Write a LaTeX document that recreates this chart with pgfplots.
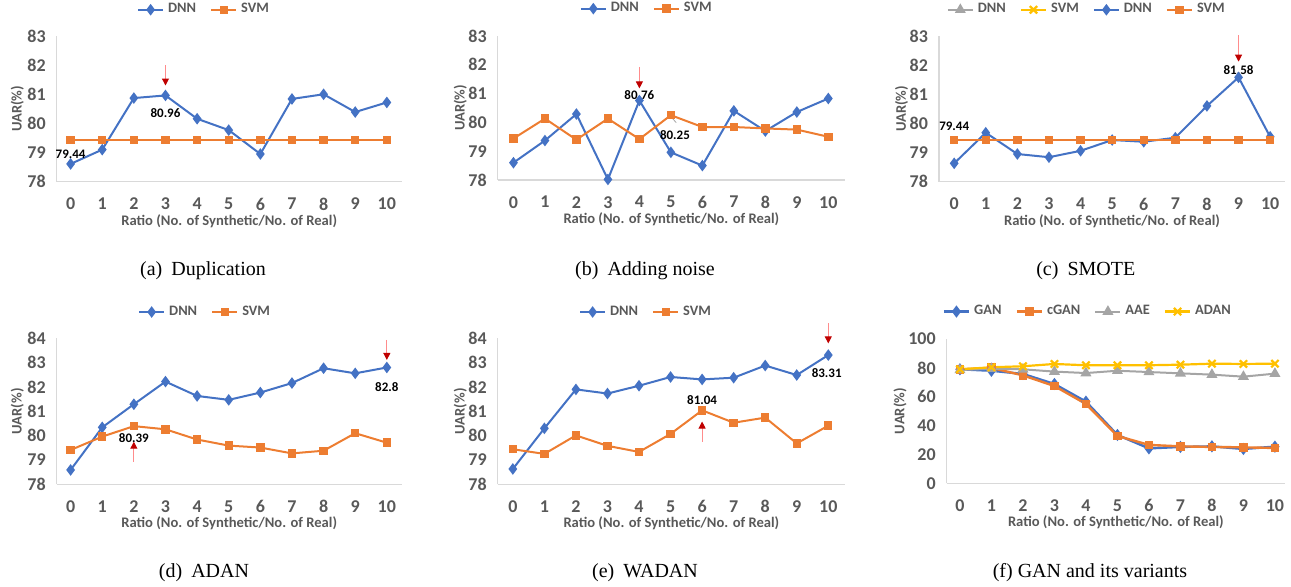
\documentclass[border=0pt]{standalone}
\usepackage{fontspec}
\setmainfont{Liberation Serif}
\newfontfamily\carlito{Carlito}
\usepackage{pgfplots}
\pgfplotsset{compat=1.18}
\usetikzlibrary{arrows.meta}
\definecolor{cblue}{HTML}{4472C4}
\definecolor{corange}{HTML}{ED7D31}
\definecolor{cgray}{HTML}{A5A5A5}
\definecolor{cyellow}{HTML}{FFC000}
\definecolor{txtgray}{HTML}{595959}
\definecolor{axisgray}{HTML}{D9D9D9}
\pgfplotsset{
 mystyle/.style={
  scale only axis, anchor=south west, clip=false,
  axis x line*=bottom, axis y line*=left,
  axis line style={draw=axisgray, line width=0.7pt, -},
  xtick={0,...,10}, major tick length=0pt,
  tick label style={font=\carlito\bfseries\fontsize{9}{10}\selectfont, text=txtgray},
  /pgf/number format/assume math mode=true,
  yticklabel style={xshift=-2pt},
  xticklabel style={yshift=-4.6pt},
  legend style={draw=none, fill=none, font=\carlito\bfseries\fontsize{7.2}{8}\selectfont, text=txtgray, legend columns=-1, anchor=center, /tikz/every even column/.append style={column sep=5pt}},
  legend image code/.code={\draw[mark repeat=2,mark phase=2] plot coordinates {(0cm,0cm) (0.22cm,0cm) (0.44cm,0cm)};},
 },
 dnn/.style={color=cblue, line width=1pt, mark=diamond*, mark size=2.1pt, mark options={solid}},
 svm/.style={color=corange, line width=1pt, mark=square*, mark size=1.6pt, mark options={solid}},
 aae/.style={color=cgray, line width=1pt, mark=triangle*, mark size=2.2pt, mark options={solid}},
 adan/.style={color=cyellow, line width=1.1pt, mark=x, mark size=2.6pt, mark options={solid}},
}
\tikzset{
 arr/.style={draw=red!45, line width=0.5pt, -{Triangle[length=3.5pt,width=3.5pt,color=red!75!black]}},
 lbl/.style={font=\carlito\bfseries\fontsize{6.5}{7}\selectfont, text=black, inner sep=0pt},
 capt/.style={font=\fontsize{10}{12}\selectfont, inner sep=0pt},
 alab/.style={font=\carlito\bfseries\fontsize{7.3}{8}\selectfont, text=txtgray, inner sep=0pt, anchor=center},
}
\newcommand{\axlabels}[1]{%
  \node[alab] at (axis description cs:0.5,-0.27) {Ratio (No. of Synthetic/No. of Real)};
  \node[alab, rotate=90] at (axis description cs:#1,0.5) {UAR(\%)};}
\begin{document}
\begin{tikzpicture}
\path[use as bounding box] (0,0) rectangle (645.5pt,-293.5pt);

% (a) Duplication
\begin{axis}[mystyle, at={(28.35pt,-90.85pt)}, width=172.5pt, height=72.85pt,
  xmin=-0.44, xmax=10.47, ymin=78, ymax=83, ytick={78,...,83},
  legend style={at={(axis description cs:0.43,1.18)}}]
\addplot[dnn] coordinates {(0,78.61) (1,79.10) (2,80.87) (3,80.96) (4,80.16) (5,79.77) (6,78.95) (7,80.84) (8,81.00) (9,80.39) (10,80.72)};
\addplot[svm] coordinates {(0,79.44) (1,79.44) (2,79.44) (3,79.44) (4,79.44) (5,79.44) (6,79.44) (7,79.44) (8,79.44) (9,79.44) (10,79.44)};
\legend{DNN,SVM}
\axlabels{-0.114}
\draw[arr] (axis cs:3,82.0) -- (axis cs:3,81.3);
\node[lbl] at (axis cs:3,80.35) {80.96};
\node[lbl] at (axis cs:0,78.95) {79.44};
\end{axis}

% (b) Adding noise
\begin{axis}[mystyle, at={(248.85pt,-90pt)}, width=173.65pt, height=72pt,
  xmin=-0.5, xmax=10.53, ymin=78, ymax=83, ytick={78,...,83},
  legend style={at={(axis description cs:0.432,1.19)}}]
\addplot[dnn] coordinates {(0,78.60) (1,79.37) (2,80.29) (3,78.02) (4,80.76) (5,78.96) (6,78.50) (7,80.40) (8,79.70) (9,80.36) (10,80.83)};
\addplot[svm] coordinates {(0,79.44) (1,80.13) (2,79.40) (3,80.13) (4,79.42) (5,80.25) (6,79.84) (7,79.84) (8,79.79) (9,79.75) (10,79.50)};
\legend{DNN,SVM}
\axlabels{-0.108}
\draw[arr] (axis cs:4,81.93) -- (axis cs:4,81.18);
\node[lbl] at (axis cs:4,80.95) {80.76};
\draw[gray!70, line width=0.4pt] (axis cs:5.05,80.14) -- (axis cs:5.17,79.99);
\node[lbl] at (axis cs:5.13,79.56) {80.25};
\end{axis}

% (c) SMOTE
\begin{axis}[mystyle, at={(469.5pt,-90.85pt)}, width=173pt, height=72.85pt,
  xmin=-0.48, xmax=10.47, ymin=78, ymax=83, ytick={78,...,83},
  legend style={at={(axis description cs:0.43,1.18)}}]
\addlegendimage{aae}
\addlegendimage{adan}
\addplot[dnn] coordinates {(0,78.63) (1,79.68) (2,78.95) (3,78.84) (4,79.06) (5,79.43) (6,79.37) (7,79.51) (8,80.60) (9,81.58) (10,79.54)};
\addplot[svm] coordinates {(0,79.44) (1,79.44) (2,79.44) (3,79.44) (4,79.44) (5,79.44) (6,79.44) (7,79.44) (8,79.44) (9,79.44) (10,79.44)};
\legend{DNN,SVM,DNN,SVM}
\axlabels{-0.108}
\draw[arr] (axis cs:9,83.03) -- (axis cs:9,82.12);
\node[lbl] at (axis cs:9,81.83) {81.58};
\node[lbl] at (axis cs:0,79.91) {79.44};
\end{axis}

% (d) ADAN
\begin{axis}[mystyle, at={(28.35pt,-242.15pt)}, width=172.5pt, height=73pt,
  xmin=-0.44, xmax=10.47, ymin=78, ymax=84, ytick={78,...,84},
  legend style={at={(axis description cs:0.433,1.18)}}]
\addplot[dnn] coordinates {(0,78.59) (1,80.34) (2,81.29) (3,82.22) (4,81.63) (5,81.47) (6,81.77) (7,82.16) (8,82.77) (9,82.56) (10,82.80)};
\addplot[svm] coordinates {(0,79.41) (1,79.96) (2,80.39) (3,80.26) (4,79.84) (5,79.59) (6,79.51) (7,79.27) (8,79.38) (9,80.10) (10,79.71)};
\legend{DNN,SVM}
\axlabels{-0.114}
\draw[arr] (axis cs:10,83.93) -- (axis cs:10,83.11);
\node[lbl] at (axis cs:10,82.01) {82.8};
\draw[arr] (axis cs:2,78.93) -- (axis cs:2,79.75);
\node[lbl] at (axis cs:2,79.89) {80.39};
\end{axis}

% (e) WADAN
\begin{axis}[mystyle, at={(248.85pt,-242.15pt)}, width=173.65pt, height=73pt,
  xmin=-0.48, xmax=10.53, ymin=78, ymax=84, ytick={78,...,84},
  legend style={at={(axis description cs:0.43,1.18)}}]
\addplot[dnn] coordinates {(0,78.63) (1,80.30) (2,81.90) (3,81.73) (4,82.05) (5,82.41) (6,82.31) (7,82.38) (8,82.88) (9,82.49) (10,83.31)};
\addplot[svm] coordinates {(0,79.44) (1,79.25) (2,80.01) (3,79.58) (4,79.33) (5,80.07) (6,81.04) (7,80.53) (8,80.74) (9,79.68) (10,80.41)};
\legend{DNN,SVM}
\axlabels{-0.108}
\draw[arr] (axis cs:10,84.62) -- (axis cs:10,83.79);
\node[lbl] at (axis cs:9.95,82.59) {83.31};
\draw[arr] (axis cs:6,79.75) -- (axis cs:6,80.58);
\node[lbl] at (axis cs:6,81.46) {81.04};
\end{axis}

% (f) GAN and its variants
\begin{axis}[mystyle, at={(473.35pt,-241.65pt)}, width=169.15pt, height=72.15pt,
  xmin=-0.42, xmax=10.32, ymin=0, ymax=100, ytick={0,20,...,100},
  legend style={at={(axis description cs:0.42,1.19)}}]
\addplot[dnn, line width=1.2pt] coordinates {(0,79.0) (1,78.0) (2,75.8) (3,68.8) (4,56.6) (5,33.5) (6,24.2) (7,25.2) (8,25.6) (9,23.8) (10,25.4)};
\addplot[svm, line width=1.2pt] coordinates {(0,79.0) (1,80.0) (2,74.8) (3,67.4) (4,55.0) (5,32.8) (6,26.6) (7,25.6) (8,25.2) (9,24.9) (10,24.5)};
\addplot[aae] coordinates {(0,78.5) (1,79.4) (2,79.0) (3,77.4) (4,76.4) (5,78.0) (6,77.1) (7,76.2) (8,75.3) (9,73.9) (10,76.0)};
\addplot[adan] coordinates {(0,79.0) (1,80.4) (2,81.1) (3,82.7) (4,81.8) (5,81.8) (6,81.8) (7,82.2) (8,82.9) (9,82.7) (10,82.9)};
\legend{GAN,cGAN,AAE,ADAN}
\axlabels{-0.138}
\end{axis}

\node[capt] at (101.5pt,-135.3pt) {(a)\hspace{0.45em}Duplication};
\node[capt] at (322.5pt,-135.3pt) {(b)\hspace{0.45em}Adding noise};
\node[capt] at (542.9pt,-135.3pt) {(c)\hspace{0.45em}SMOTE};
\node[capt] at (102pt,-286.5pt) {(d)\hspace{0.45em}ADAN};
\node[capt] at (322.5pt,-286.5pt) {(e)\hspace{0.45em}WADAN};
\node[capt] at (545pt,-286.5pt) {(f) GAN and its variants};
\end{tikzpicture}
\end{document}
